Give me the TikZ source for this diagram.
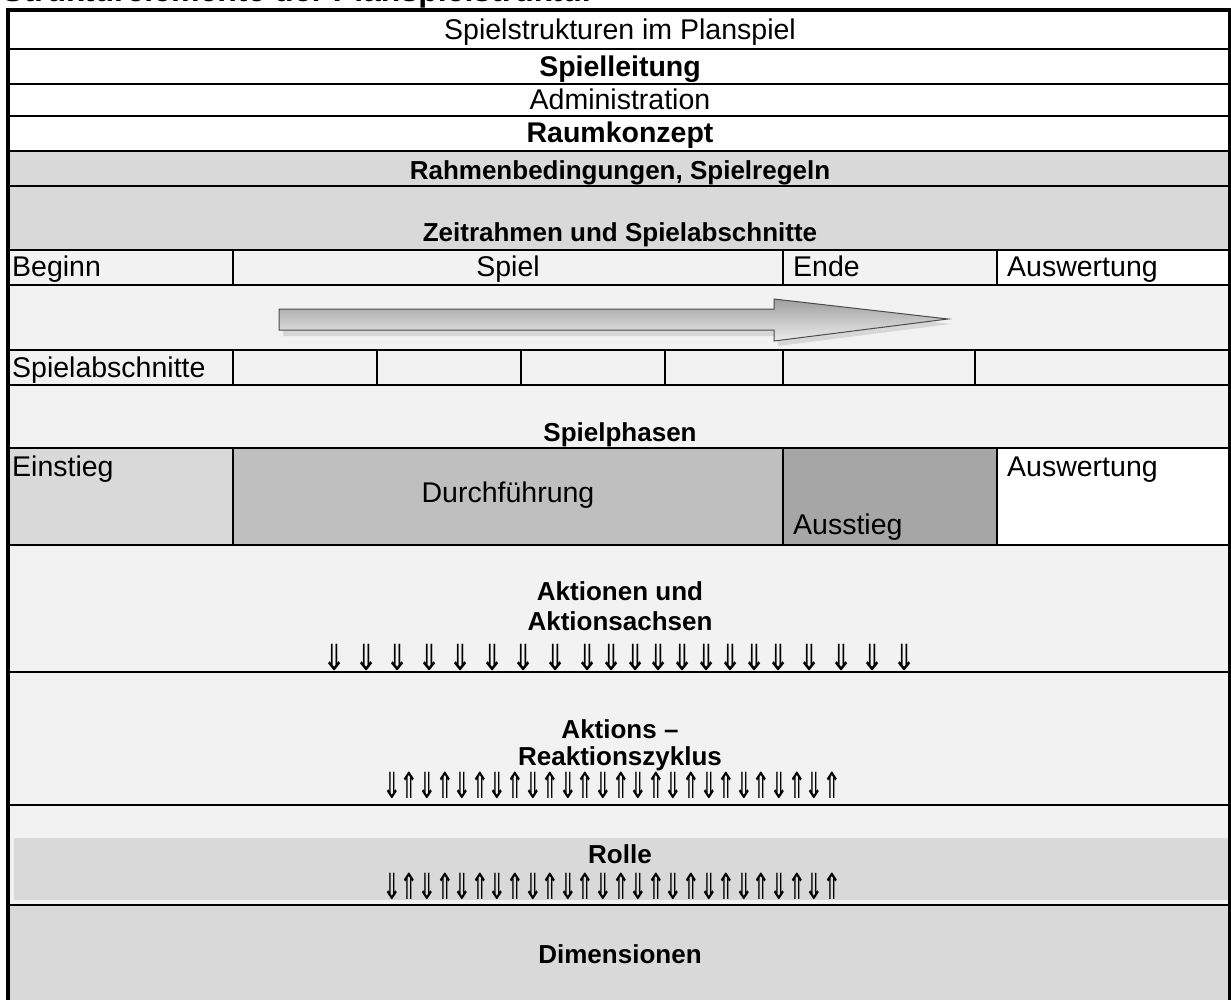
\documentclass[tikz,border=0pt]{standalone}
\usepackage{fontspec}
\setmainfont{Liberation Sans}
\newfontfamily\arrowfont{DejaVu Sans}
\definecolor{paleg}{HTML}{F2F2F2}
\definecolor{lightg}{HTML}{D9D9D9}
\definecolor{midg}{HTML}{BFBFBF}
\definecolor{darkg}{HTML}{A6A6A6}
\tikzset{
  rowline/.style={line width=2.6pt},
  colline/.style={line width=1.8pt},
  reg/.style={font=\fontsize{28.5}{32}\selectfont, inner sep=0pt},
  hd/.style={font=\bfseries\fontsize{28.5}{32}\selectfont, inner sep=0pt},
  hdsmall/.style={font=\bfseries\fontsize{26}{30}\selectfont, inner sep=0pt},
  arr/.style={font=\arrowfont\fontsize{36}{36}\selectfont, inner sep=0pt, xscale=0.65},
  arrwide/.style={font=\arrowfont\fontsize{36}{36}\selectfont, inner sep=0pt, xscale=0.8},
}
\begin{document}
\begin{tikzpicture}[x=1pt,y=-1pt]
\useasboundingbox (0,0) rectangle (1231,1000);
\fill[white] (0,0) rectangle (1231,1000);

% heading above the table, running off the top edge
\begin{scope}
  \clip (0,0) rectangle (1231,9);
  \node[anchor=base west, font=\bfseries\fontsize{32}{32}\selectfont, inner sep=0pt] (title) at (2,2) {Strukturelemente der Planspielstruktur};
\end{scope}

% background fills
\fill[white]  (8,10)   rectangle (1229,151);
\fill[lightg] (8,151)  rectangle (1229,250);
\fill[paleg]  (8,250)  rectangle (1229,448);
\fill[white]  (997,250) rectangle (1229,285);
\fill[lightg] (8,448)  rectangle (233,545);
\fill[midg]   (233,448) rectangle (783,545);
\fill[darkg]  (783,448) rectangle (997,545);
\fill[white]  (997,448) rectangle (1229,545);
\fill[paleg]  (8,545)  rectangle (1229,905);
\fill[lightg] (14,838) rectangle (1229,900);
\fill[lightg] (8,905)  rectangle (1229,1000);

% time arrow with shadow
\fill[gray!45, opacity=0.6] (283,314) -- (778,314) -- (778,304) -- (951,324) -- (778,346) -- (778,336) -- (283,336) -- cycle;
\shade[top color=gray!75, bottom color=gray!15, draw=gray!60!black, line width=1pt]
  (279,309) -- (774,309) -- (774,299) -- (948,319) -- (774,341) -- (774,330) -- (279,330) -- cycle;

% row separators
\foreach \yy in {49,84,116,151,186,250,285,350,385,448,545,672,805,905}
  \draw[rowline] (8,\yy) -- (1229,\yy);
\draw[line width=3.2pt] (6.4,10) -- (1229,10);
\draw[line width=3.2pt] (8,8.4) -- (8,1000);
\draw[line width=2.6pt] (1229.7,8.4) -- (1229.7,1000);

% column separators
\foreach \xx in {233,783,997} \draw[colline] (\xx,250) -- (\xx,285);
\foreach \xx in {233,377,521,665,783,975} \draw[colline] (\xx,350) -- (\xx,385);
\foreach \xx in {233,783,997} \draw[colline] (\xx,448) -- (\xx,545);

% header rows
\node[reg, anchor=mid] (struk) at (620,37) {Spielstrukturen im Planspiel};
\node[hd, anchor=mid] (leit) at (620,74) {Spielleitung};
\node[reg, anchor=mid] (admin) at (620,107) {Administration};
\node[hd, anchor=mid] (raum) at (620,140) {Raumkonzept};
\node[hdsmall, anchor=mid] (rahmen) at (620,177) {Rahmenbedingungen, Spielregeln};
\node[hdsmall, anchor=mid] (zeit) at (620,239) {Zeitrahmen und Spielabschnitte};

% time frame row
\node[reg, anchor=mid west] (beginn) at (12,274) {Beginn};
\node[reg, anchor=mid] (spiel) at (508,274) {Spiel};
\node[reg, anchor=mid west] (ende) at (793,274) {Ende};
\node[reg, anchor=mid west] (ausw1) at (1007,274) {Auswertung};
\node[reg, anchor=mid west] (abschn) at (12,375) {Spielabschnitte};

% phases
\node[hdsmall, anchor=mid] (phasen) at (620,439) {Spielphasen};
\node[reg, anchor=mid west] (einstieg) at (12,474) {Einstieg};
\node[reg, anchor=mid] (durch) at (508,500) {Durchführung};
\node[reg, anchor=mid west] (ausstieg) at (793,532) {Ausstieg};
\node[reg, anchor=mid west] (ausw2) at (1007,474) {Auswertung};

% actions
\node[hdsmall, anchor=mid] (akt1) at (620,598) {Aktionen und};
\node[hdsmall, anchor=mid] (akt2) at (620,628) {Aktionsachsen};
\foreach \xx in {335,367,398,430,461,493,524,556,588,612,636,659,683,707,731,755,779,810,842,873,905}
  \node[arrwide] at (\xx,657) {⇓};

\node[hdsmall, anchor=mid] (zyk1) at (620,736) {Aktions –};
\node[hdsmall, anchor=mid] (zyk2) at (620,763) {Reaktionszyklus};
\foreach \i in {0,...,12} {
  \node[arr] at (392+35.2*\i,785) {⇓};
  \node[arr] at (409.6+35.2*\i,785) {⇑};
}

\node[hdsmall, anchor=mid] (rolle) at (620,861) {Rolle};
\foreach \i in {0,...,12} {
  \node[arr] at (392+35.2*\i,886) {⇓};
  \node[arr] at (409.6+35.2*\i,886) {⇑};
}

\node[hdsmall, anchor=mid] (dim) at (620,961) {Dimensionen};
\end{tikzpicture}
\end{document}
